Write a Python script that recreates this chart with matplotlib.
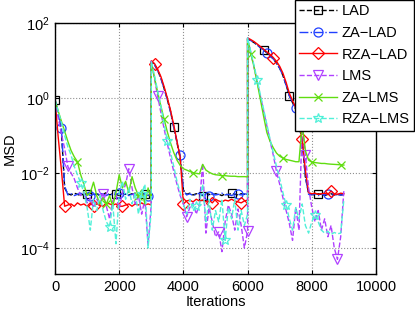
import numpy as np
import matplotlib
matplotlib.use("Agg")
import matplotlib.pyplot as plt
from matplotlib.ticker import NullLocator, FixedLocator

plt.rcParams['font.family'] = ['Liberation Sans', 'DejaVu Sans']
plt.rcParams['mathtext.fontset'] = 'custom'
plt.rcParams['mathtext.rm'] = 'Liberation Sans'
plt.rcParams['mathtext.it'] = 'Liberation Sans:italic'

# sampling grid: three segments (system changes at 3000 and 6000)
iters = list(range(0, 3001, 100)) + list(range(3000, 6001, 100)) + list(range(6000, 9001, 100))

lad = [0.89, 0.38, 0.13, 4e-3, 2.8e-3, 2.6e-3, 2.9e-3, 2.7e-3, 2.5e-3, 2.8e-3,
       2.7e-3, 2.9e-3, 2.6e-3, 2.8e-3, 2.5e-3, 2.7e-3, 3.0e-3, 2.6e-3, 2.8e-3, 2.7e-3,
       2.5e-3, 2.9e-3, 2.7e-3, 2.6e-3, 2.8e-3, 2.7e-3, 2.5e-3, 2.9e-3, 2.7e-3, 2.6e-3, 2.8e-3,
       9.2, 7.8, 5.4, 3.4, 1.8, 0.92, 0.43, 0.17, 0.065, 0.024,
       3.5e-3, 2.7e-3, 2.9e-3, 2.6e-3, 2.8e-3, 2.7e-3, 2.5e-3, 2.9e-3, 2.7e-3, 2.6e-3,
       2.8e-3, 2.7e-3, 2.5e-3, 2.8e-3, 2.6e-3, 2.9e-3, 2.7e-3, 2.6e-3, 2.8e-3, 2.7e-3, 2.6e-3,
       38, 34, 30, 26, 22, 19, 16, 13.5, 11, 8.5,
       6.2, 4.0, 2.2, 1.15, 0.75, 0.5, 0.2, 0.07, 8e-3, 2.8e-3,
       2.7e-3, 2.6e-3, 2.8e-3, 2.7e-3, 2.5e-3, 2.7e-3, 2.8e-3, 2.6e-3, 2.7e-3, 2.6e-3, 2.7e-3]

za_lad = [0.89, 0.42, 0.16, 4.5e-3, 2.6e-3, 2.8e-3, 2.5e-3, 2.7e-3, 2.9e-3, 2.6e-3,
          2.8e-3, 2.5e-3, 2.7e-3, 2.6e-3, 2.9e-3, 2.7e-3, 2.5e-3, 2.8e-3, 2.6e-3, 2.7e-3,
          2.9e-3, 2.6e-3, 2.8e-3, 2.5e-3, 2.7e-3, 2.9e-3, 2.6e-3, 2.8e-3, 2.7e-3, 2.5e-3, 2.7e-3,
          9.2, 7.7, 5.3, 3.3, 1.75, 0.9, 0.42, 0.16, 0.07, 0.03,
          3.5e-3, 2.6e-3, 2.8e-3, 2.5e-3, 2.7e-3, 2.9e-3, 2.6e-3, 2.7e-3, 2.5e-3, 2.8e-3,
          2.6e-3, 2.7e-3, 2.9e-3, 2.6e-3, 2.7e-3, 2.5e-3, 2.8e-3, 2.7e-3, 2.6e-3, 2.8e-3, 2.7e-3,
          38, 34, 30, 26, 22, 19, 16, 13.5, 11, 8.5,
          6.2, 4.0, 2.2, 1.15, 0.75, 0.55, 0.2, 0.07, 8e-3, 2.7e-3,
          2.6e-3, 2.8e-3, 2.5e-3, 2.7e-3, 2.6e-3, 2.8e-3, 2.6e-3, 2.5e-3, 2.7e-3, 2.6e-3, 2.6e-3]

rza_lad = [0.89, 0.09, 0.012, 1.3e-3, 1.4e-3, 1.5e-3, 1.3e-3, 1.6e-3, 1.4e-3, 1.5e-3,
           1.3e-3, 1.6e-3, 1.3e-3, 1.5e-3, 1.4e-3, 1.3e-3, 1.6e-3, 1.5e-3, 1.4e-3, 1.5e-3,
           1.3e-3, 1.3e-3, 1.4e-3, 1.5e-3, 1.3e-3, 1.5e-3, 1.4e-3, 1.6e-3, 1.4e-3, 1.5e-3, 1.4e-3,
           9.8, 8.3, 5.8, 3.7, 2.0, 1.0, 0.47, 0.19, 0.07, 0.026,
           1.5e-3, 1.8e-3, 1.9e-3, 1.7e-3, 2.0e-3, 1.8e-3, 1.9e-3, 1.7e-3, 1.9e-3, 1.6e-3,
           2.0e-3, 1.8e-3, 1.7e-3, 1.9e-3, 1.8e-3, 2.0e-3, 1.8e-3, 1.7e-3, 1.6e-3, 1.8e-3, 1.9e-3,
           40, 36, 32, 27.5, 23.5, 20, 17, 14.5, 12, 9.5,
           7, 4.6, 2.6, 1.35, 0.85, 0.55, 0.22, 0.08, 0.012, 3.0e-3,
           2.8e-3, 2.9e-3, 2.7e-3, 2.8e-3, 2.9e-3, 2.7e-3, 3.3e-3, 2.8e-3, 2.7e-3, 2.9e-3, 2.8e-3]

lms = [0.89, 0.3, 0.11, 0.045, 0.015, 0.01, 7e-3, 4e-3, 2.5e-3, 3e-3,
       1.6e-3, 2.2e-3, 1.2e-3, 2e-3, 1.5e-3, 2.8e-3, 1.3e-3, 6e-4, 1.8e-3, 2.5e-3,
       1.1e-3, 3e-3, 5e-3, 1.3e-2, 4e-3, 1.5e-3, 2.5e-3, 8e-4, 2e-3, 1.2e-4, 1.5e-3,
       9.5, 3.2, 1.1, 0.4, 0.15, 0.06, 0.025, 0.011, 5e-3, 2.5e-3,
       1.5e-3, 6.8e-4, 1.2e-3, 1.6e-3, 8e-4, 1.5e-3, 1.8e-2, 2.5e-4, 1.2e-3, 5e-4,
       2e-4, 2.7e-4, 8e-5, 5e-4, 1.4e-3, 8e-4, 3e-4, 1.1e-3, 4e-4, 1e-4, 2.8e-4,
       40, 16, 6.6, 2.7, 1.1, 0.45, 0.18, 0.072, 0.03, 0.011,
       5e-3, 2.2e-3, 1e-3, 4.5e-4, 1.6e-4, 1.2e-3, 3e-4, 0.2, 0.03, 4e-3,
       1.2e-3, 5e-4, 1e-3, 3e-4, 6e-4, 2e-4, 4e-4, 1e-4, 5e-5, 2e-4, 3.5e-3]

za_lms = [0.89, 0.45, 0.24, 0.13, 0.07, 0.04, 0.027, 0.02, 9e-3, 5e-3,
          2.5e-3, 3e-3, 5.7e-3, 2.5e-3, 1.5e-3, 2.2e-3, 1.5e-3, 2.5e-3, 1.3e-3, 3e-3,
          9e-3, 4e-3, 6e-3, 3e-3, 8e-3, 4e-3, 2.5e-3, 3.5e-3, 1.5e-3, 4e-3, 2e-3,
          8.5, 3.5, 1.4, 0.6, 0.27, 0.125, 0.063, 0.035, 0.022, 0.016,
          0.013, 0.012, 0.011, 0.0102, 0.0098, 0.0095, 0.017, 0.012, 0.0105, 0.0095,
          0.009, 0.0088, 0.0085, 0.0085, 0.0083, 0.0082, 0.0082, 0.008, 0.008, 0.008, 0.0079,
          38, 15, 6.8, 2.5, 0.9, 0.32, 0.12, 0.07, 0.047, 0.034,
          0.028, 0.025, 0.023, 0.022, 0.021, 0.02, 0.02, 0.2, 0.04, 0.022,
          0.0195, 0.019, 0.0185, 0.018, 0.018, 0.0175, 0.0172, 0.017, 0.0168, 0.0165, 0.0163]

rza_lms = [0.89, 0.45, 0.22, 0.1, 0.05, 0.03, 0.015, 9e-3, 5.4e-3, 3e-3,
           1.2e-3, 3e-4, 2e-3, 1e-3, 2.5e-3, 1e-3, 5e-4, 3.6e-4, 1.5e-3, 1.3e-4,
           3e-3, 6e-3, 2e-3, 4e-3, 1.5e-3, 3e-3, 8e-4, 2.8e-3, 5e-3, 1e-4, 1e-3,
           9.5, 4, 1.5, 0.6, 0.2, 0.07, 0.035, 0.015, 6e-3, 3e-3,
           1.5e-3, 8e-4, 2e-3, 1e-3, 1.3e-3, 1.5e-3, 5e-3, 5e-4, 2e-3, 3e-4,
           1e-3, 5e-4, 2e-3, 1.6e-4, 1.2e-3, 6e-4, 2e-3, 3e-4, 1e-3, 4e-4, 8e-4,
           40, 17, 7.5, 3.0, 1.2, 0.5, 0.2, 0.08, 0.035, 0.015,
           7e-3, 3e-3, 1.4e-3, 6e-4, 3e-4, 1.2e-3, 6e-4, 1.5e-3, 4e-4, 2.5e-4,
           5e-4, 7.6e-4, 5e-4, 3e-4, 2.5e-4, 2.8e-4, 2.3e-4, 2.6e-4, 2.4e-4, 2.5e-4, 2e-3]

labels = ['LAD', 'ZA\u2212LAD', 'RZA\u2212LAD', 'LMS', 'ZA\u2212LMS', 'RZA\u2212LMS']
series = [lad, za_lad, rza_lad, lms, za_lms, rza_lms]
colors = ['#000000', '#2040FF', '#FF0000', '#B040FF', '#60DD10', '#50F0D8']
styles = ['--', '-.', '-', '--', '-', '--']
markers = ['s', 'o', 'D', 'v', 'x', '*']
msizes = [6, 6.5, 6, 7, 5.5, 7]
mark_idx = [[0, 10, 19, 28, 38, 47, 56, 67, 75, 84],
            [2, 11, 20, 29, 40, 49, 58, 68, 77, 87],
            [3, 12, 21, 32, 41, 50, 59, 70, 79, 88],
            [4, 15, 23, 33, 42, 52, 61, 71, 80, 90],
            [7, 16, 26, 35, 44, 53, 63, 73, 82, 91],
            [8, 17, 27, 36, 45, 54, 65, 74, 83]]

fig = plt.figure(figsize=(4.15, 3.12), dpi=100)
ax = fig.add_axes([55/415, 1-274/312, (376-55)/415, (274-23)/312])

for y, lab, c, ls, mk, ms, mi in zip(series, labels, colors, styles, markers, msizes, mark_idx):
    ax.plot(iters, y, ls=ls, color=c, lw=1.0, marker=mk, markevery=mi,
            mfc='none', mec=c, ms=ms, mew=0.9, label=lab)

ax.set_yscale('log')
ax.set_xlim(0, 10000)
ax.set_ylim(2.03e-5, 1e2)
ax.xaxis.set_major_locator(FixedLocator([0, 2000, 4000, 6000, 8000, 10000]))
ax.yaxis.set_major_locator(FixedLocator([1e-4, 1e-2, 1e0, 1e2]))
ax.yaxis.set_minor_locator(NullLocator())
ax.grid(True, ls=':', color='#909090', lw=0.8)
ax.tick_params(direction='in', length=3, top=True, right=True, labelsize=10.5, pad=4)
for s in ax.spines.values():
    s.set_linewidth(1.0)
ax.set_xlabel('Iterations', fontsize=10.5, labelpad=1)
ax.set_ylabel('MSD', fontsize=10.5, labelpad=2)

leg = ax.legend(loc='upper right', bbox_to_anchor=(414/415, 1.0), bbox_transform=fig.transFigure,
                fontsize=10.5, frameon=True, fancybox=False, framealpha=1, edgecolor='black',
                handlelength=2.6, handletextpad=0.3, labelspacing=0.52, borderpad=0.3,
                borderaxespad=0.0)
leg.get_frame().set_linewidth(1.0)

fig.savefig('out.png', dpi=100)
